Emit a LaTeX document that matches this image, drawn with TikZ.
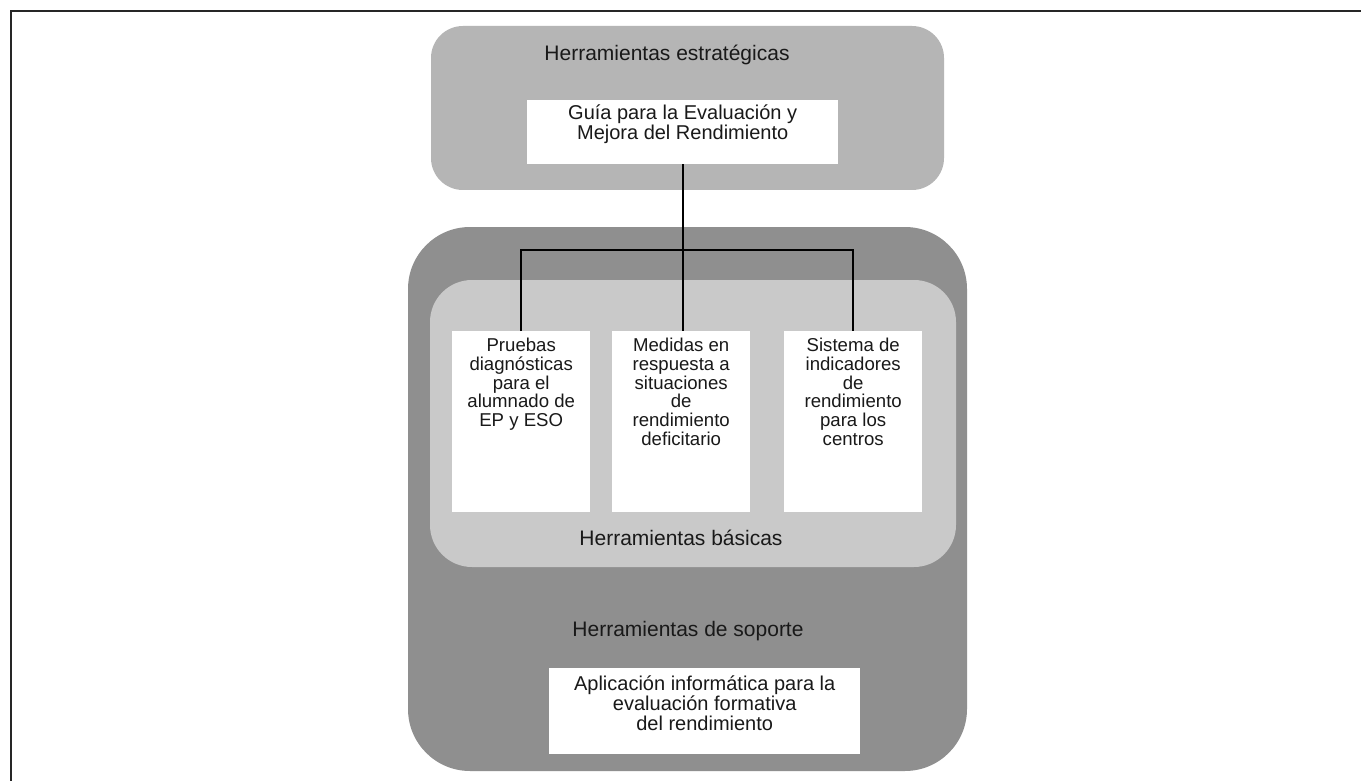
\documentclass[tikz,border=0pt]{standalone}
\usepackage{fontspec}
\setmainfont{Liberation Sans}
\definecolor{topgray}{RGB}{181,181,181}
\definecolor{darkgray}{RGB}{143,143,143}
\definecolor{midgray}{RGB}{201,201,201}
\definecolor{inkc}{RGB}{25,25,25}
\begin{document}
\begin{tikzpicture}[x=1pt,y=-1pt,
  wbox/.style={fill=white, inner sep=0pt, anchor=north west, text=inkc},
  head/.style={font=\fontsize{21}{24}\selectfont, text=inkc, inner sep=0pt},
  conn/.style={draw=black, line width=1.8pt},
  frame/.style={draw=black!85, line width=1.6pt}
]
\useasboundingbox (0,0) rectangle (1361,781);
\fill[white] (0,0) rectangle (1361,781);
% frame lines
\coordinate (ftl) at (11,11);
\coordinate (ftr) at (1361,11);
\coordinate (fbl) at (11,781);
\draw[frame] (ftr) -- (ftl) -- (fbl);
% panels
\fill[topgray, rounded corners=32pt] (431,26) rectangle (944,190);
\fill[darkgray, rounded corners=62pt] (408,227) rectangle (967,771);
\fill[midgray, rounded corners=42pt] (430,280) rectangle (956,567);
% headers
\node[head] (hest) at (667,55) {Herramientas estratégicas};
\node[head] (hbas) at (681,538) {Herramientas básicas};
\node[head] (hsop) at (688,631) {Herramientas de soporte};
% guide box
\node[wbox] (guide) at (527,100)
  {\parbox[t][64pt][t]{311pt}{\centering\fontsize{20}{19.5}\selectfont\vspace*{5pt}Guía para la Evaluación y\\Mejora del Rendimiento}};
% three basic boxes
\newcommand{\colbox}[1]{\parbox[t][181pt][t]{138pt}{\centering\fontsize{18.6}{18.7}\selectfont\vspace*{7pt}#1}}
\node[wbox] (b1) at (452,331) {\colbox{Pruebas\\diagnósticas\\para el\\alumnado de\\EP y ESO}};
\node[wbox] (b2) at (612,331) {\colbox{Medidas en\\respuesta a\\situaciones\\de\\rendimiento\\deficitario}};
\node[wbox] (b3) at (784,331) {\colbox{Sistema de\\indicadores\\de\\rendimiento\\para los\\centros}};
% support box
\node[wbox] (apl) at (549,668) {\parbox[t][86pt][t]{311pt}{\centering\fontsize{20}{20}\selectfont\vspace*{8pt}Aplicación informática para la\\evaluación formativa\\del rendimiento}};
% connectors
\coordinate (hb) at (682,250);
\draw[conn] (guide.south) -- (guide.south |- b2.north);
\draw[conn] (b1.north) -- (b1.north |- hb) -- (b3.north |- hb) -- (b3.north);
\end{tikzpicture}
\end{document}
